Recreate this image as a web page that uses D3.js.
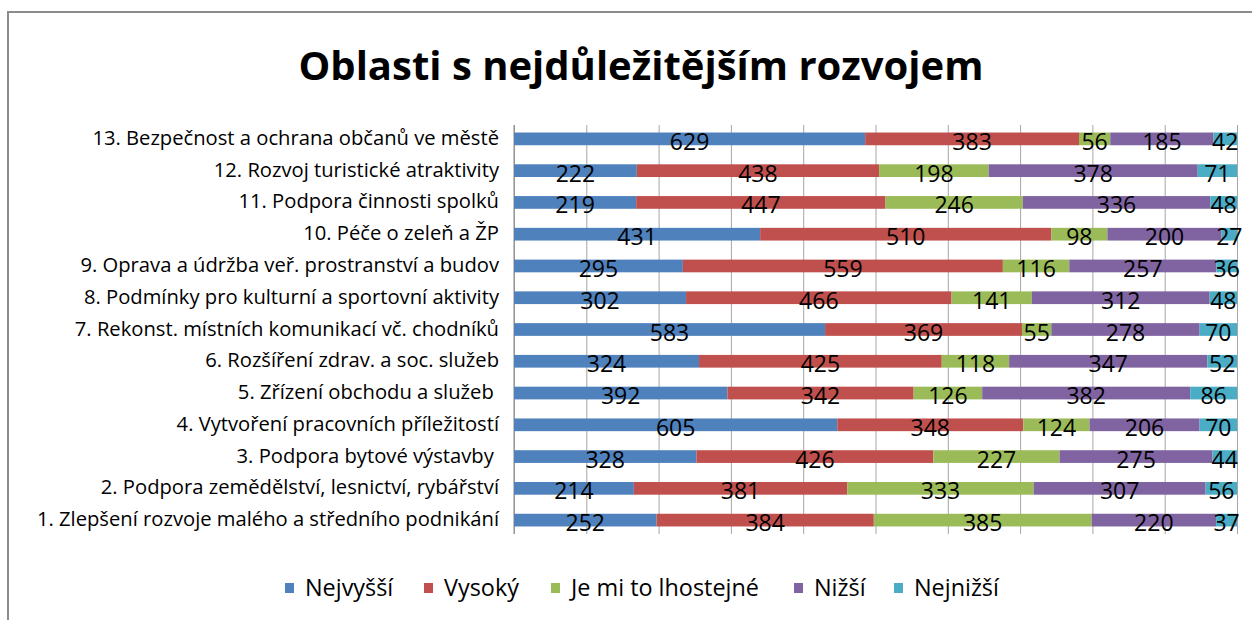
<!DOCTYPE html>
<html>
<head>
<meta charset="utf-8">
<script src="https://cdn.jsdelivr.net/npm/d3@7"></script>
<style>
  html, body { margin: 0; padding: 0; background: #fff; }
  svg { display: block; font-family: "Open Sans", Lato, sans-serif; }
</style>
</head>
<body>
<div id="chart"></div>
<script>
const categories = [
  "13. Bezpečnost a ochrana občanů ve městě",
  "12. Rozvoj turistické atraktivity",
  "11. Podpora činnosti spolků",
  "10. Péče o zeleň a ŽP",
  "9. Oprava a údržba veř. prostranství a budov",
  "8. Podmínky pro kulturní a sportovní aktivity",
  "7. Rekonst. místních komunikací vč. chodníků",
  "6. Rozšíření zdrav. a soc. služeb",
  "5. Zřízení obchodu a služeb ",
  "4. Vytvoření pracovních příležitostí",
  "3. Podpora bytové výstavby ",
  "2. Podpora zemědělství, lesnictví, rybářství",
  "1. Zlepšení rozvoje malého a středního podnikání"
];
const seriesNames = ["Nejvyšší", "Vysoký", "Je mi to lhostejné", "Nižší", "Nejnižší"];
const nejvyssi = [629, 222, 219, 431, 295, 302, 583, 324, 392, 605, 328, 214, 252];
const vysoky   = [383, 438, 447, 510, 559, 466, 369, 425, 342, 348, 426, 381, 384];
const lhostejne = [56, 198, 246, 98, 116, 141, 55, 118, 126, 124, 227, 333, 385];
const nizsi    = [185, 378, 336, 200, 257, 312, 278, 347, 382, 206, 275, 307, 220];
const nejnizsi = [42, 71, 48, 27, 36, 48, 70, 52, 86, 70, 44, 56, 37];
const colors = ["#4F81BD", "#C0504D", "#9BBB59", "#8064A2", "#4BACC6"];
const title = "Oblasti s nejdůležitějším rozvojem";

const width = 1252, height = 620;
const margin = {top: 123, right: 15, bottom: 84, left: 514};

const seriesValues = [nejvyssi, vysoky, lhostejne, nizsi, nejnizsi];
const rows = categories.map((c, i) => {
  const row = {cat: c};
  seriesNames.forEach((s, j) => row[s] = seriesValues[j][i]);
  return row;
});

const stacked = d3.stack().keys(seriesNames).offset(d3.stackOffsetExpand)(rows);

const x = d3.scaleLinear().domain([0, 1]).range([margin.left, width - margin.right]);
const y = d3.scaleBand().domain(categories)
    .range([margin.top, height - margin.bottom])
    .paddingInner(0.6).paddingOuter(0.3);
const color = d3.scaleOrdinal().domain(seriesNames).range(colors);

const svg = d3.select("#chart").append("svg")
    .attr("width", width)
    .attr("height", height)
    .attr("viewBox", [0, 0, width, height]);

// chart area frame
svg.append("rect")
    .attr("x", 8).attr("y", 12)
    .attr("width", width + 20).attr("height", height + 20)
    .attr("fill", "#fff")
    .attr("stroke", "#8c8c8c")
    .attr("stroke-width", 2);

svg.append("text")
    .attr("x", 641)
    .attr("y", 80)
    .attr("text-anchor", "middle")
    .attr("font-weight", "bold")
    .attr("font-size", 40)
    .attr("fill", "#000")
    .text(title);

// vertical gridlines (no tick labels)
const gridTop = 125, gridBottom = 534;
svg.append("g")
    .attr("transform", `translate(0,${gridBottom})`)
    .call(d3.axisBottom(x).ticks(10).tickSize(-(gridBottom - gridTop)).tickFormat(""))
    .call(g => g.select(".domain").remove())
    .call(g => g.selectAll(".tick line").attr("stroke", "#a6a6a6"));

// category axis
svg.append("g")
    .attr("transform", `translate(${margin.left},0)`)
    .call(d3.axisLeft(y).tickSize(0).tickPadding(15))
    .call(g => g.select(".domain").attr("d", `M0,${gridTop}V${gridBottom}`).attr("stroke", "#868686"))
    .call(g => g.selectAll(".tick text")
        .attr("font-family", "'Open Sans', sans-serif")
        .attr("font-size", 20.2)
        .attr("fill", "#000")
        .attr("dy", "0.3em")
        .style("white-space", "pre"));

const layer = svg.append("g")
  .selectAll("g")
  .data(stacked)
  .join("g")
    .attr("fill", d => color(d.key));

layer.selectAll("rect")
  .data(d => d)
  .join("rect")
    .attr("x", d => x(d[0]))
    .attr("y", d => y(d.data.cat))
    .attr("width", d => x(d[1]) - x(d[0]))
    .attr("height", y.bandwidth());

const labels = svg.append("g")
    .attr("font-size", 23)
    .attr("fill", "#000")
    .attr("text-anchor", "middle");

stacked.forEach(s => {
  labels.selectAll(null)
    .data(s)
    .join("text")
      .attr("x", d => (x(d[0]) + x(d[1])) / 2)
      .attr("y", d => y(d.data.cat) + y.bandwidth() / 2 + 11)
      .text(d => d.data[s.key]);
});

// legend
const legendX = [285, 424, 551, 794, 894];
const legend = svg.append("g")
  .selectAll("g")
  .data(seriesNames)
  .join("g")
    .attr("transform", (d, i) => `translate(${legendX[i]},588)`);

legend.append("rect")
    .attr("x", 0).attr("y", -5)
    .attr("width", 9).attr("height", 10)
    .attr("fill", d => color(d));

legend.append("text")
    .attr("x", 20)
    .attr("y", 8)
    .attr("font-size", 23.4)
    .attr("fill", "#000")
    .text(d => d);
</script>
</body>
</html>
